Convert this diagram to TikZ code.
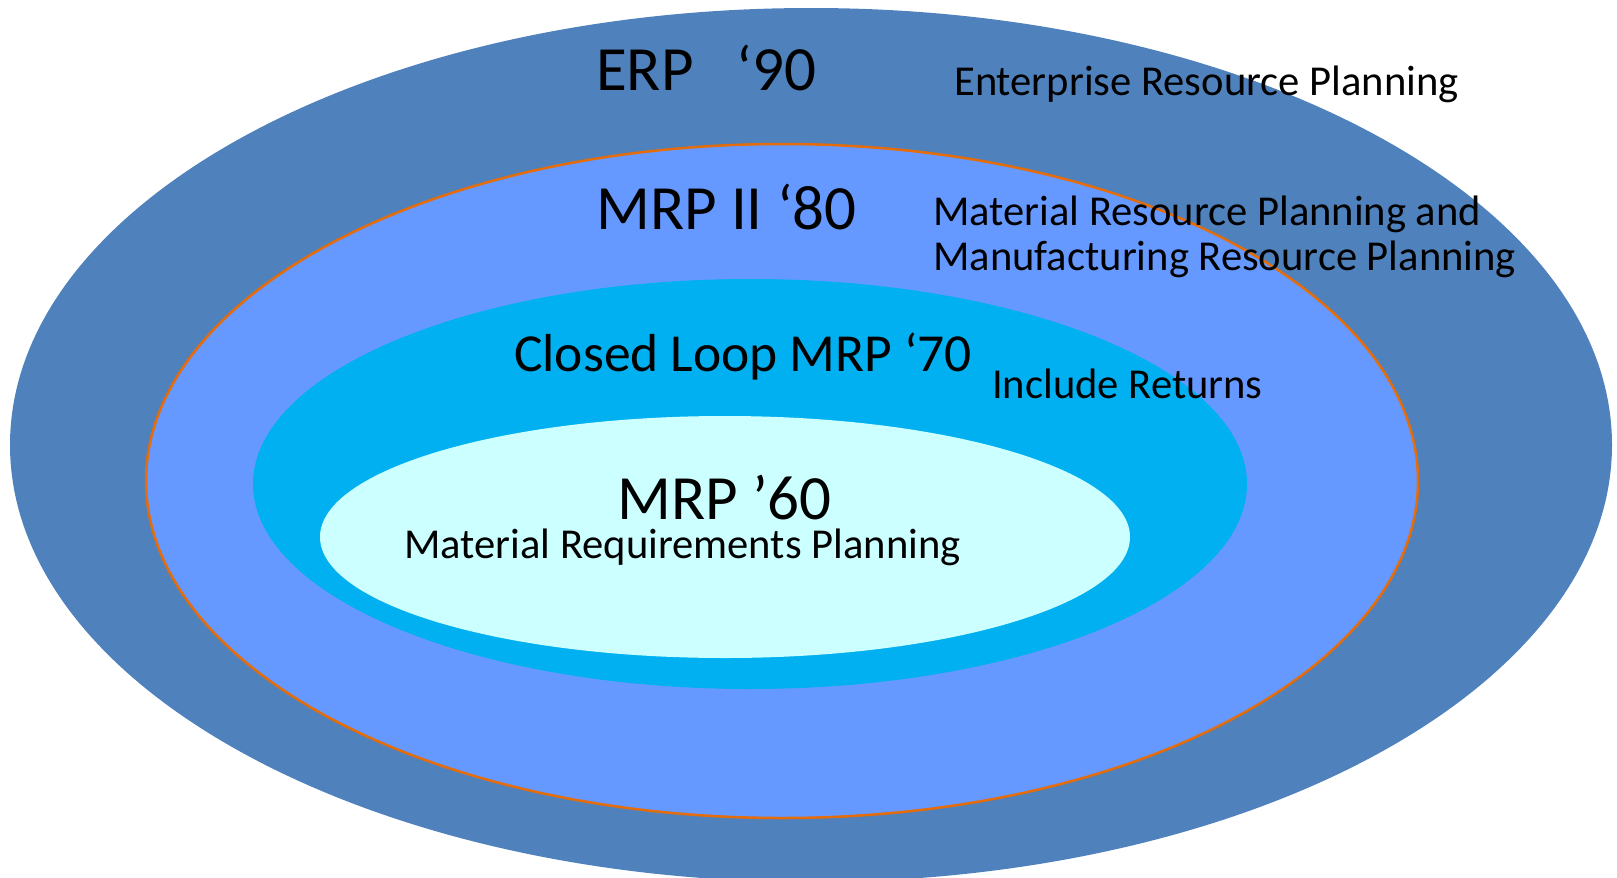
\documentclass[tikz,border=0pt]{standalone}
\usepackage{fontspec}
\setmainfont{Carlito}
\begin{document}
\begin{tikzpicture}[x=1pt,y=-1pt,
  big/.style={font=\fontsize{63}{70}\selectfont, anchor=base west, inner sep=0pt},
  mid/.style={font=\fontsize{53.5}{60}\selectfont, anchor=base west, inner sep=0pt},
  small/.style={font=\fontsize{42.6}{50}\selectfont, anchor=base west, inner sep=0pt}]
\definecolor{erpc}{RGB}{79,129,189}
\definecolor{mrpiic}{RGB}{102,153,255}
\definecolor{clc}{RGB}{0,176,240}
\definecolor{mrpc}{RGB}{204,255,255}
\definecolor{orng}{RGB}{228,108,10}
\useasboundingbox (0,0) rectangle (1617,878);
\fill[erpc] (811,445) ellipse [x radius=801, y radius=437];
\filldraw[fill=mrpiic, draw=orng, line width=2.5pt] (782,481) ellipse [x radius=636, y radius=337];
\fill[clc] (750,484) ellipse [x radius=497, y radius=205];
\fill[mrpc] (725,537) ellipse [x radius=405, y radius=121];
\node[big] (erp) at (596,90) {ERP~~~‘90};
\node[small] (erpd) at (954,95) {Enterprise Resource Planning};
\node[big] (mrpii) at (596,229) {MRP II ‘80};
\node[small] (mrpiid1) at (933,225) {Material Resource Planning and};
\node[small] (mrpiid2) at (933,270) {Manufacturing Resource Planning};
\node[mid] (cl) at (514,371) {Closed Loop MRP ‘70};
\node[small] (cld) at (992,398) {Include Returns};
\node[big, text depth=0pt] (mrp) at (617,519) {MRP ’60};
\node[small, text height=28pt] (mrpd) at (404,558) {Material Requirements Planning};
\end{tikzpicture}
\end{document}
